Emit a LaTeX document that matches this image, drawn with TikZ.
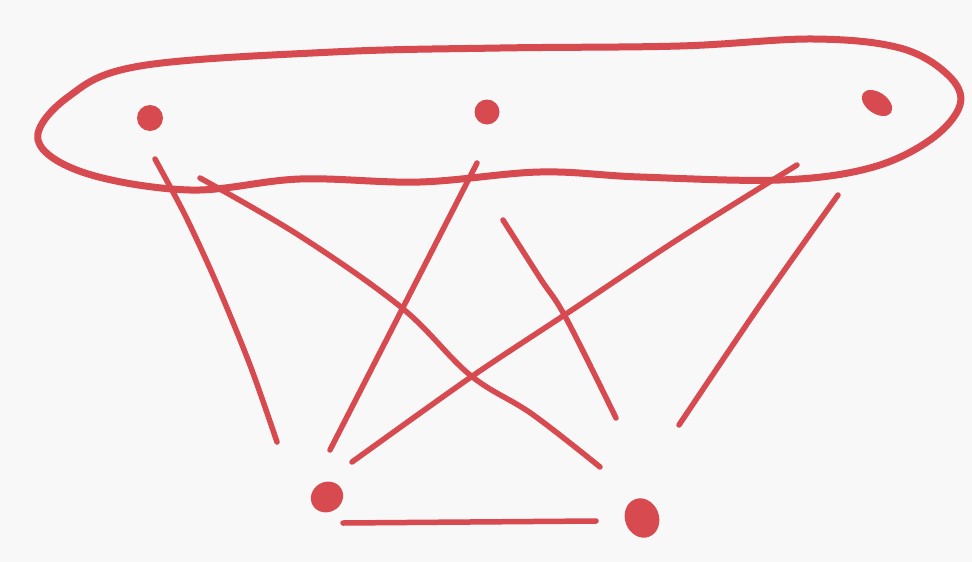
\documentclass[tikz,border=0pt]{standalone}
\usetikzlibrary{shapes.geometric}
\definecolor{pen}{RGB}{214,74,80}
\definecolor{paper}{RGB}{248,248,248}
\tikzset{
  stroke/.style={draw=pen, line width=7pt, line cap=round, line join=round},
  edgeline/.style={draw=pen, line width=5.5pt, line cap=round, line join=round},
  vtx/.style={ellipse, fill=pen, inner sep=0pt}
}
\begin{document}
\begin{tikzpicture}[x=1pt,y=-1pt]
\fill[paper] (0,0) rectangle (972,562);
\useasboundingbox (0,0) rectangle (972,562);
% the set boundary
\draw[stroke] plot[smooth cycle, tension=0.6] coordinates {
 (38,140) (68,97) (140,66) (333,52) (500,48) (680,46)
 (813,39) (900,48) (948,75) (960,105) (930,140) (870,168)
 (780,180) (640,177) (540,172) (420,182) (300,179) (190,190) (85,173)};
% vertices
\node[vtx, minimum width=26pt, minimum height=26pt] (a) at (150,118) {};
\node[vtx, minimum width=25pt, minimum height=25pt] (b) at (487,112) {};
\node[vtx, minimum width=34pt, minimum height=21pt, rotate=-35] (c) at (877,103) {};
\node[vtx, minimum width=33pt, minimum height=30pt, rotate=30] (d) at (327,497) {};
\node[vtx, minimum width=34pt, minimum height=40pt, rotate=20] (e) at (642,518) {};
% lines
\coordinate (l1s) at (155,159); \coordinate (l1e) at (277,442);
\coordinate (l2s) at (200,178); \coordinate (l2e) at (600,467);
\coordinate (l3s) at (477,163); \coordinate (l3e) at (330,450);
\coordinate (l4s) at (503,220); \coordinate (l4e) at (616,418);
\coordinate (l5s) at (797,165); \coordinate (l5e) at (352,462);
\coordinate (l6s) at (838,195); \coordinate (l6e) at (679,425);
\coordinate (l7s) at (343,523); \coordinate (l7e) at (596,521);
\draw[edgeline] plot[smooth] coordinates {(l1s) (185,215) (216,282) (250,365) (l1e)};
\draw[edgeline] plot[smooth, tension=0.6] coordinates {(l2s) (300,236) (402,308) (470,375) (532,414) (l2e)};
\draw[edgeline] (l3s) -- (l3e);
\draw[edgeline] plot[smooth, tension=0.6] coordinates {(l4s) (540,278) (566,318) (l4e)};
\draw[edgeline] plot[smooth] coordinates {(l5s) (680,238) (566,314) (471,377) (l5e)};
\draw[edgeline] plot[smooth] coordinates {(l6s) (760,305) (l6e)};
\draw[edgeline] (l7s) -- (l7e);
\end{tikzpicture}
\end{document}
